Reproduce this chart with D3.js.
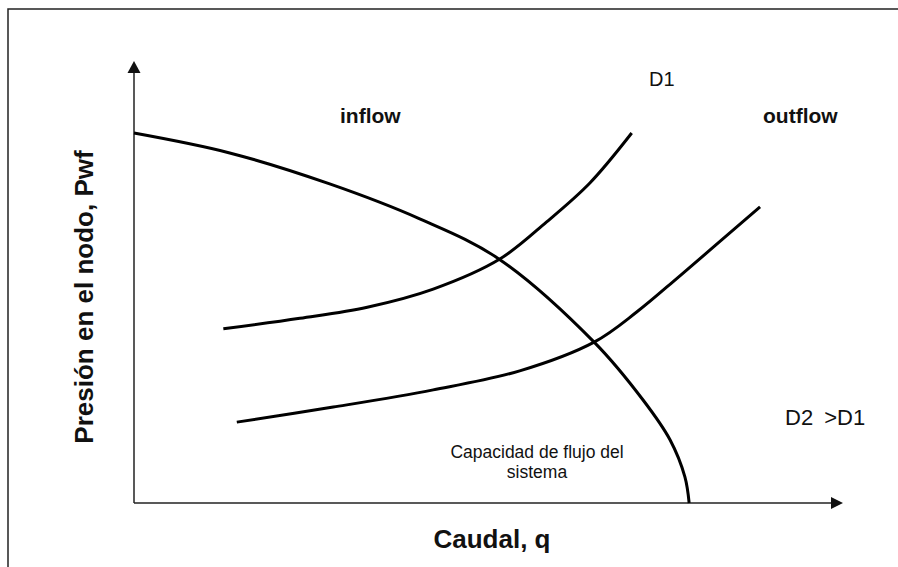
<!DOCTYPE html>
<html>
<head>
<meta charset="utf-8">
<script src="https://cdn.jsdelivr.net/npm/d3@7/dist/d3.min.js"></script>
<style>
  html, body { margin: 0; padding: 0; background: #fff; }
  svg { display: block; font-family: "Liberation Sans", Arial, sans-serif; }
</style>
</head>
<body>
<div id="chart"></div>
<script>
// curvas de nodo: inflow (capacidad del sistema) y outflow para D1 y D2
// valores en unidades arbitrarias (0..10)
const inflowQ = [0, 1.35, 2.76, 4.03, 5.13, 6.49, 7.18, 7.56, 7.77, 7.83];
const inflowP = [8.37, 7.92, 7.22, 6.43, 5.54, 3.64, 2.33, 1.43, 0.59, 0];

const d1Q = [1.26, 2.34, 3.29, 4.22, 5.16, 5.82, 6.43, 7.02];
const d1P = [3.94, 4.18, 4.43, 4.84, 5.52, 6.36, 7.24, 8.37];

const d2Q = [1.45, 2.81, 4.22, 5.44, 6.49, 7.09, 7.7, 8.83];
const d2P = [1.83, 2.17, 2.56, 2.99, 3.64, 4.32, 5.14, 6.7];

const W = 898, H = 567;
const x0 = 134, x1 = 843, y0 = 503, y1 = 61;

const svg = d3.select("#chart").append("svg").attr("width", W).attr("height", H);

// marco
svg.append("rect")
  .attr("x", 8).attr("y", 9).attr("width", 900).attr("height", 600)
  .attr("fill", "none").attr("stroke", "#222").attr("stroke-width", 1.5);

const x = d3.scaleLinear().domain([0, 10]).range([x0, x1]);
const y = d3.scaleLinear().domain([0, 10]).range([y0, y1]);

// ejes con flecha
const axis = svg.append("g").attr("stroke", "#222").attr("stroke-width", 1.5);
axis.append("line").attr("x1", x(0)).attr("y1", y(0)).attr("x2", x(9.85)).attr("y2", y(0));
axis.append("line").attr("x1", x(0)).attr("y1", y(0)).attr("x2", x(0)).attr("y2", y(9.8));

svg.append("path")
  .attr("d", `M${x(10)},${y(0)} L${x(10) - 12},${y(0) - 6} L${x(10) - 12},${y(0) + 6} Z`)
  .attr("fill", "#111");
svg.append("path")
  .attr("d", `M${x(0)},${y(10)} L${x(0) - 6.5},${y(10) + 12} L${x(0) + 6.5},${y(10) + 12} Z`)
  .attr("fill", "#111");

const line = d3.line()
  .x((d) => x(d[0]))
  .y((d) => y(d[1]))
  .curve(d3.curveCatmullRom.alpha(0.5));

const series = [
  d3.zip(inflowQ, inflowP),
  d3.zip(d1Q, d1P),
  d3.zip(d2Q, d2P),
];

svg.append("g")
  .selectAll("path")
  .data(series)
  .join("path")
  .attr("d", line)
  .attr("fill", "none")
  .attr("stroke", "#000")
  .attr("stroke-width", 3);

// textos
const txt = svg.append("g").attr("fill", "#111");

txt.append("text")
  .attr("x", 492).attr("y", 548)
  .attr("text-anchor", "middle")
  .attr("font-size", 26).attr("font-weight", "bold")
  .text("Caudal, q");

txt.append("text")
  .attr("transform", "translate(93,297) rotate(-90)")
  .attr("text-anchor", "middle")
  .attr("font-size", 26).attr("font-weight", "bold")
  .text("Presión en el nodo, Pwf");

txt.append("text")
  .attr("x", 340).attr("y", 123)
  .attr("font-size", 21).attr("font-weight", "bold")
  .text("inflow");

txt.append("text")
  .attr("x", 763).attr("y", 123)
  .attr("font-size", 21).attr("font-weight", "bold")
  .text("outflow");

txt.append("text")
  .attr("x", 649).attr("y", 86)
  .attr("font-size", 20)
  .text("D1");

txt.append("text")
  .attr("x", 785).attr("y", 425)
  .attr("font-size", 22)
  .attr("word-spacing", 5)
  .text("D2 >D1");

const cap = txt.append("text")
  .attr("text-anchor", "middle")
  .attr("font-size", 17.5);
cap.append("tspan").attr("x", 537).attr("y", 458).text("Capacidad de flujo del");
cap.append("tspan").attr("x", 537).attr("y", 478).text("sistema");
</script>
</body>
</html>
